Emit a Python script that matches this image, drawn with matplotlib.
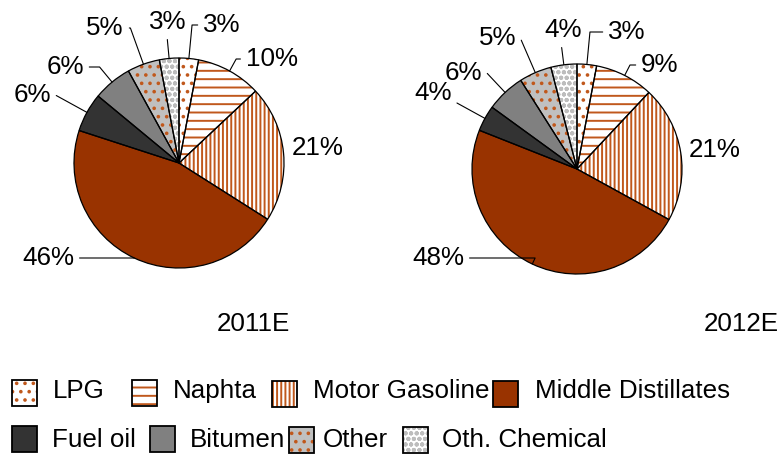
import math
import matplotlib
matplotlib.use('Agg')
import matplotlib.pyplot as plt
from matplotlib.patches import Rectangle

# ---------------- data ----------------
categories = ['LPG', 'Naphta', 'Motor Gasoline', 'Middle Distillates',
              'Fuel oil', 'Bitumen', 'Other', 'Oth. Chemical']
share_2011 = [3, 10, 21, 46, 6, 6, 5, 3]
share_2012 = [3, 9, 21, 48, 4, 6, 5, 4]
years = ['2011E', '2012E']

# ---------------- styles ----------------
face = ['white', 'white', 'white', '#993300', '#333333', '#808080', '#C0C0C0', 'white']
hatch = ['..', '--', '||||', None, None, None, '..', 'ooo']
hatch_col = ['#C0581C', '#C0581C', '#C0581C', '#993300', '#333333', '#808080', '#C0581C', '#BDBDBD']
explode = [0, 0, 0, 0, 0.05, 0, 0, 0]

W, H = 778, 454
plt.rcParams['hatch.linewidth'] = 1.4
FONT = 'Liberation Sans'
FS = 18.7

fig = plt.figure(figsize=(W / 100, H / 100), dpi=100)
ax = fig.add_axes([0, 0, 1, 1])

# layout (pixel coords, top-down y)
pie_centers = [(179, 163), (577, 169)]
radius = 105
label_pos = [
    [(222, 25), (272, 59), (318, 148), (48, 258), (32, 95), (65, 67), (105, 28), (168, 22)],
    [(627, 32), (660, 65), (715, 150), (438, 258), (433, 93), (463, 73), (498, 38), (563, 30)],
]
leader = [True, True, False, True, True, True, True, True]
year_pos = [(253, 324), (741, 324)]

for k, vals in enumerate([share_2011, share_2012]):
    cx, cy = pie_centers[k][0], H - pie_centers[k][1]
    # hatched fill layer (edge colour drives the hatch colour)
    w1, _ = ax.pie(vals, startangle=90, counterclock=False, colors=face,
                   explode=explode, center=(cx, cy), radius=radius,
                   wedgeprops=dict(linewidth=0))
    for w, h, hc in zip(w1, hatch, hatch_col):
        w.set_edgecolor(hc)
        if h:
            w.set_hatch(h)
    # outline layer
    w2, _ = ax.pie(vals, startangle=90, counterclock=False, colors=face,
                   explode=explode, center=(cx, cy), radius=radius,
                   wedgeprops=dict(linewidth=0.9, edgecolor='black', fill=False))
    for i, w in enumerate(w2):
        mid = (w.theta1 + w.theta2) / 2.0
        rx = w.center[0] + w.r * math.cos(math.radians(mid))
        ry = w.center[1] + w.r * math.sin(math.radians(mid))
        tx, ty = label_pos[k][i][0], H - label_pos[k][i][1]
        ap = None
        if leader[i]:
            ap = dict(arrowstyle='-', color='black', lw=0.8, shrinkA=2, shrinkB=0,
                      connectionstyle=f'angle,angleA=0,angleB={mid},rad=0')
        ax.annotate(f'{vals[i]}%', xy=(rx, ry), xytext=(tx, ty), ha='center', va='center',
                    fontsize=FS, family=FONT, arrowprops=ap)
    ax.text(year_pos[k][0], H - year_pos[k][1], years[k], ha='center', va='center',
            fontsize=FS, family=FONT)

# ---------------- legend ----------------
leg_box = [(12, 380), (132, 380), (272, 381), (493, 381),
           (12, 426), (150, 426), (289, 427), (403, 427)]
leg_txt = [(53, 398), (173, 398), (313, 398), (535, 398),
           (52, 447), (190, 447), (323, 447), (442, 447)]
BW, BH = 25, 26
for i, cat in enumerate(categories):
    bx, by = leg_box[i]
    ax.add_patch(Rectangle((bx, H - by - BH), BW, BH, facecolor=face[i], edgecolor=hatch_col[i],
                           linewidth=0, hatch=hatch[i]))
    ax.add_patch(Rectangle((bx, H - by - BH), BW, BH, fill=False, edgecolor='black', linewidth=1.3))
    ax.text(leg_txt[i][0], H - leg_txt[i][1], cat, ha='left', va='baseline',
            fontsize=FS, family=FONT)

ax.set_xlim(0, W)
ax.set_ylim(0, H)
ax.set_aspect('auto')
ax.axis('off')
fig.savefig('out.png', dpi=100)
